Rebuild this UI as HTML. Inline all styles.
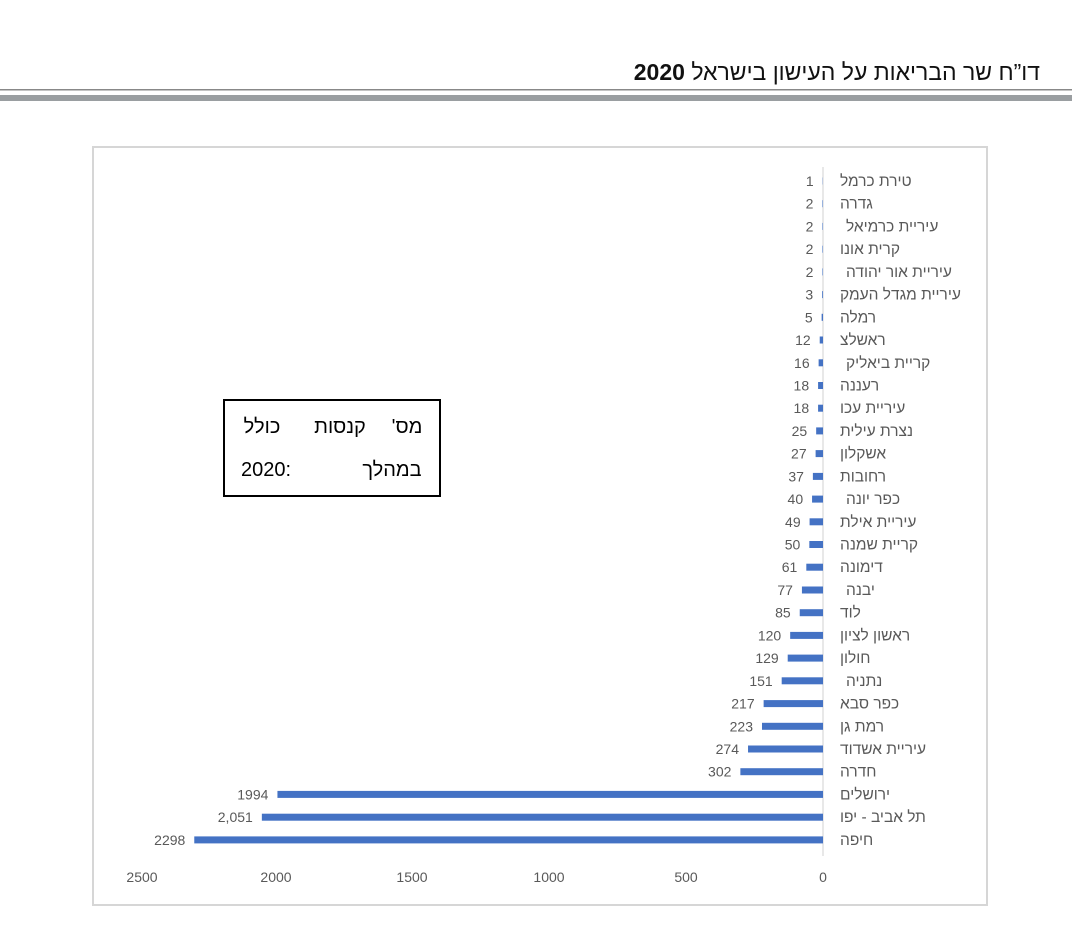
<!DOCTYPE html>
<html><head><meta charset="utf-8"><style>
body{margin:0;background:#fff;width:1072px;height:934px;overflow:hidden;font-family:"Liberation Sans","Noto Sans CJK SC",sans-serif}
</style></head><body>
<svg width="1072" height="934" xmlns="http://www.w3.org/2000/svg" font-family="Liberation Sans, DejaVu Sans, sans-serif">
<text x="1040" y="80" font-size="23" fill="#111" direction="rtl" text-anchor="start">דו”ח שר הבריאות על העישון בישראל <tspan font-weight="bold">2020</tspan></text>
<rect x="0" y="89" width="1072" height="1.5" fill="#888"/>
<rect x="0" y="95" width="1072" height="6" fill="#9a9ea1"/>
<rect x="93" y="147" width="894" height="758" fill="#fff" stroke="#d6d6d6" stroke-width="2"/>
<line x1="823" y1="167" x2="823" y2="856" stroke="#d0d0d0" stroke-width="1"/>
<g font-size="14" fill="#595959" text-anchor="middle">
<text x="142" y="882">2500</text><text x="276" y="882">2000</text><text x="412" y="882">1500</text><text x="549" y="882">1000</text><text x="686" y="882">500</text><text x="823" y="882">0</text>
</g>
<rect x="224" y="400" width="216" height="96" fill="#fff" stroke="#000" stroke-width="2"/>
<g font-size="20" fill="#000" text-anchor="middle">
<text x="407" y="433" direction="rtl">מס'</text><text x="340" y="433">קנסות</text><text x="262" y="433">כולל</text>
<text x="392" y="476">במהלך</text><text x="266" y="476">2020:</text>
</g>
<g transform="translate(823,0)" fill="#4472c4">
<rect x="-0.27" y="177.5" width="0.27" height="7"/>
<rect x="-0.55" y="200.2" width="0.55" height="7"/>
<rect x="-0.55" y="222.9" width="0.55" height="7"/>
<rect x="-0.55" y="245.7" width="0.55" height="7"/>
<rect x="-0.55" y="268.4" width="0.55" height="7"/>
<rect x="-0.82" y="291.1" width="0.82" height="7"/>
<rect x="-1.37" y="313.8" width="1.37" height="7"/>
<rect x="-3.28" y="336.5" width="3.28" height="7"/>
<rect x="-4.38" y="359.3" width="4.38" height="7"/>
<rect x="-4.92" y="382" width="4.92" height="7"/>
<rect x="-4.92" y="404.7" width="4.92" height="7"/>
<rect x="-6.84" y="427.4" width="6.84" height="7"/>
<rect x="-7.39" y="450.1" width="7.39" height="7"/>
<rect x="-10.12" y="472.9" width="10.12" height="7"/>
<rect x="-10.94" y="495.6" width="10.94" height="7"/>
<rect x="-13.41" y="518.3" width="13.41" height="7"/>
<rect x="-13.68" y="541" width="13.68" height="7"/>
<rect x="-16.69" y="563.7" width="16.69" height="7"/>
<rect x="-21.07" y="586.5" width="21.07" height="7"/>
<rect x="-23.26" y="609.2" width="23.26" height="7"/>
<rect x="-32.83" y="631.9" width="32.83" height="7"/>
<rect x="-35.29" y="654.6" width="35.29" height="7"/>
<rect x="-41.31" y="677.3" width="41.31" height="7"/>
<rect x="-59.37" y="700.1" width="59.37" height="7"/>
<rect x="-61.01" y="722.8" width="61.01" height="7"/>
<rect x="-74.97" y="745.5" width="74.97" height="7"/>
<rect x="-82.63" y="768.2" width="82.63" height="7"/>
<rect x="-545.56" y="790.9" width="545.56" height="7"/>
<rect x="-561.15" y="813.7" width="561.15" height="7"/>
<rect x="-628.73" y="836.4" width="628.73" height="7"/>
</g>
<g transform="translate(823,0)" font-size="14" fill="#595959" text-anchor="end">
<text x="-9.3" y="186">1</text>
<text x="-9.6" y="208.7">2</text>
<text x="-9.6" y="231.4">2</text>
<text x="-9.6" y="254.2">2</text>
<text x="-9.6" y="276.9">2</text>
<text x="-9.8" y="299.6">3</text>
<text x="-10.4" y="322.3">5</text>
<text x="-12.3" y="345">12</text>
<text x="-13.4" y="367.8">16</text>
<text x="-13.9" y="390.5">18</text>
<text x="-13.9" y="413.2">18</text>
<text x="-15.8" y="435.9">25</text>
<text x="-16.4" y="458.6">27</text>
<text x="-19.1" y="481.4">37</text>
<text x="-19.9" y="504.1">40</text>
<text x="-22.4" y="526.8">49</text>
<text x="-22.7" y="549.5">50</text>
<text x="-25.7" y="572.2">61</text>
<text x="-30.1" y="595">77</text>
<text x="-32.3" y="617.7">85</text>
<text x="-41.8" y="640.4">120</text>
<text x="-44.3" y="663.1">129</text>
<text x="-50.3" y="685.8">151</text>
<text x="-68.4" y="708.6">217</text>
<text x="-70" y="731.3">223</text>
<text x="-84" y="754">274</text>
<text x="-91.6" y="776.7">302</text>
<text x="-554.6" y="799.4">1994</text>
<text x="-570.2" y="822.2">2,051</text>
<text x="-637.7" y="844.9">2298</text>
</g>
<g font-size="15.5" fill="#595959" direction="rtl" text-anchor="end">
<text x="840" y="186">טירת כרמל</text>
<text x="840" y="208.7">גדרה</text>
<text x="846" y="231.4">עיריית כרמיאל</text>
<text x="840" y="254.2">קרית אונו</text>
<text x="846" y="276.9">עיריית אור יהודה</text>
<text x="840" y="299.6">עיריית מגדל העמק</text>
<text x="840" y="322.3">רמלה</text>
<text x="840" y="345">ראשלצ</text>
<text x="846" y="367.8">קריית ביאליק</text>
<text x="840" y="390.5">רעננה</text>
<text x="840" y="413.2">עיריית עכו</text>
<text x="840" y="435.9">נצרת עילית</text>
<text x="840" y="458.6">אשקלון</text>
<text x="840" y="481.4">רחובות</text>
<text x="846" y="504.1">כפר יונה</text>
<text x="840" y="526.8">עיריית אילת</text>
<text x="840" y="549.5">קריית שמנה</text>
<text x="840" y="572.2">דימונה</text>
<text x="846" y="595">יבנה</text>
<text x="840" y="617.7">לוד</text>
<text x="840" y="640.4">ראשון לציון</text>
<text x="840" y="663.1">חולון</text>
<text x="846" y="685.8">נתניה</text>
<text x="840" y="708.6">כפר סבא</text>
<text x="840" y="731.3">רמת גן</text>
<text x="840" y="754">עיריית אשדוד</text>
<text x="840" y="776.7">חדרה</text>
<text x="840" y="799.4">ירושלים</text>
<text x="840" y="822.2">תל אביב - יפו</text>
<text x="840" y="844.9">חיפה</text>
</g>
</svg>
</body></html>
